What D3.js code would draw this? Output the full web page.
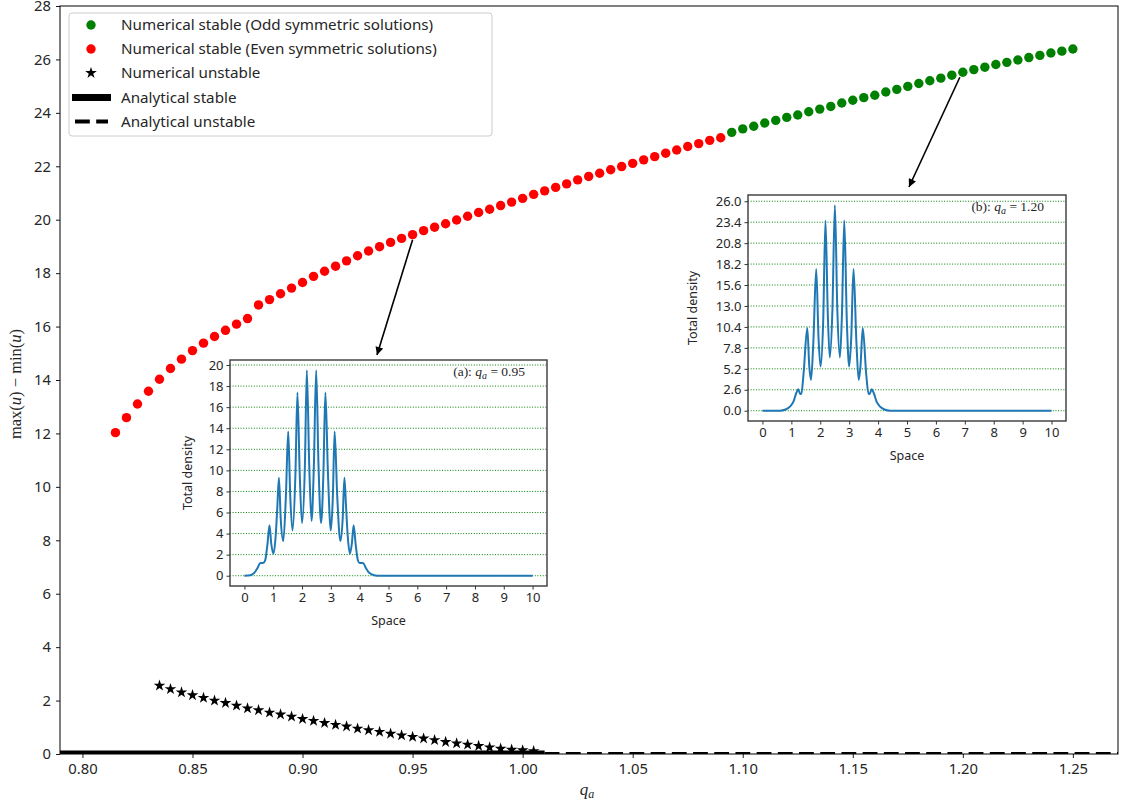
<!DOCTYPE html>
<html><head><meta charset="utf-8">
<script src="https://cdn.jsdelivr.net/npm/d3@7"></script>
<style>
body{margin:0;background:#fff;}
text{font-family:"Noto Sans",sans-serif;}
</style></head>
<body><svg id="c" width="1123" height="803"></svg>
<script>
// ---------- data ----------
const xTicks = [0.80,0.85,0.90,0.95,1.00,1.05,1.10,1.15,1.20,1.25];
const yTicks = [0,2,4,6,8,10,12,14,16,18,20,22,24,26,28];

const qEven = [0.815,0.820,0.825,0.830,0.835,0.840,0.845,0.850,0.855,0.860,0.865,0.870,0.875,0.880,0.885,0.890,0.895,0.900,0.905,0.910,0.915,0.920,0.925,0.930,0.935,0.940,0.945,0.950,0.955,0.960,0.965,0.970,0.975,0.980,0.985,0.990,0.995,1.000,1.005,1.010,1.015,1.020,1.025,1.030,1.035,1.040,1.045,1.050,1.055,1.060,1.065,1.070,1.075,1.080,1.085,1.090];
const evenVals = [12.03,12.59,13.10,13.58,14.03,14.43,14.78,15.10,15.38,15.63,15.86,16.09,16.30,16.81,17.01,17.23,17.44,17.65,17.88,18.07,18.26,18.46,18.65,18.83,18.99,19.15,19.30,19.44,19.59,19.72,19.85,19.99,20.13,20.27,20.39,20.53,20.66,20.80,20.95,21.08,21.21,21.34,21.49,21.62,21.74,21.87,21.99,22.11,22.24,22.36,22.49,22.61,22.74,22.85,22.97,23.07];

const qOdd = [1.095,1.100,1.105,1.110,1.115,1.120,1.125,1.130,1.135,1.140,1.145,1.150,1.155,1.160,1.165,1.170,1.175,1.180,1.185,1.190,1.195,1.200,1.205,1.210,1.215,1.220,1.225,1.230,1.235,1.240,1.245,1.250];
const oddVals = [23.27,23.40,23.50,23.62,23.72,23.83,23.92,24.04,24.14,24.24,24.37,24.47,24.57,24.66,24.78,24.88,24.99,25.10,25.20,25.30,25.41,25.52,25.62,25.71,25.81,25.89,25.98,26.07,26.15,26.24,26.31,26.39];

const qUnstable = [0.835,0.840,0.845,0.850,0.855,0.860,0.865,0.870,0.875,0.880,0.885,0.890,0.895,0.900,0.905,0.910,0.915,0.920,0.925,0.930,0.935,0.940,0.945,0.950,0.955,0.960,0.965,0.970,0.975,0.980,0.985,0.990,0.995,1.000,1.005];
const unstableVals = [2.56,2.43,2.31,2.20,2.10,2.00,1.91,1.81,1.71,1.64,1.55,1.48,1.40,1.31,1.24,1.16,1.09,1.03,0.95,0.89,0.83,0.76,0.70,0.64,0.58,0.52,0.45,0.40,0.35,0.30,0.25,0.20,0.16,0.14,0.11];

const analyticStableQ = [0.78, 1.01];
const analyticStableV = [0, 0];
const analyticUnstableQ = [1.01, 1.28];
const analyticUnstableV = [0, 0];

const legendLabels = ["Numerical stable (Odd symmetric solutions)","Numerical stable (Even symmetric solutions)","Numerical unstable","Analytical stable","Analytical unstable"];

// inset (a) q_a = 0.95
const insetAX = [0,0.2,0.35,0.45,0.55,0.65,0.72,0.80,0.87,0.93,1.01,1.08,1.14,1.198,1.26,1.35,1.44,1.52,1.59,1.67,1.77,1.84,1.92,2.0,2.10,2.166,2.25,2.33,2.41,2.49,2.57,2.66,2.74,2.81,2.90,3.0,3.07,3.13,3.22,3.33,3.41,3.47,3.53,3.59,3.66,3.73,3.79,3.86,3.94,4.0,4.12,4.22,4.32,4.5,4.7,6,8,10];
const insetAY = [0,0.05,0.3,0.7,1.2,1.2,1.45,3.0,4.8,3.1,2.1,3.6,6.4,9.3,5.4,3.3,7.6,13.7,7.6,4.3,9.6,17.4,9.6,5.0,10.6,19.5,10.4,5.2,10.4,19.5,10.6,5.0,9.6,17.4,9.6,4.3,7.6,13.7,7.6,3.3,5.4,9.3,6.4,3.6,2.1,3.1,4.8,3.0,1.45,1.2,1.2,0.7,0.3,0.05,0,0,0,0];
const insetATicks = [0,2,4,6,8,10,12,14,16,18,20];

// inset (b) q_a = 1.20
const insetBX = [0,0.6,0.8,0.95,1.08,1.17,1.24,1.3,1.345,1.42,1.55,1.62,1.68,1.76,1.86,1.94,2.01,2.10,2.18,2.26,2.33,2.42,2.506,2.59,2.68,2.75,2.83,2.92,3.0,3.07,3.15,3.25,3.33,3.39,3.47,3.59,3.67,3.71,3.78,3.85,3.94,4.07,4.22,4.42,6,8,10];
const insetBY = [0,0,0.15,0.5,1.2,2.2,2.66,2.1,2.08,4.5,10.26,5.5,3.82,8.5,17.6,9.0,5.48,11.0,23.6,12.0,6.6,12.5,25.5,12.5,6.6,12.0,23.6,11.0,5.48,9.0,17.6,8.5,3.82,5.5,10.26,4.5,2.08,2.1,2.66,2.2,1.2,0.5,0.15,0,0,0,0];
const insetBTicks = [0.0,2.6,5.2,7.8,10.4,13.0,15.6,18.2,20.8,23.4,26.0];
const insetXTicks = [0,1,2,3,4,5,6,7,8,9,10];

// ---------- drawing ----------
const svg = d3.select("#c");
const L=60,R=1118,T=6,B=754;
const x = d3.scaleLinear([0.7898,1.2705],[L,R]);
const y = d3.scaleLinear([0,28],[B,T]);
const ink = "#262626";

svg.append("defs").append("clipPath").attr("id","mainclip")
  .append("rect").attr("x",L).attr("y",T).attr("width",R-L).attr("height",B-T);

// analytical lines
const line0 = d3.line().x(d=>x(d[0])).y(d=>y(d[1]));
const g = svg.append("g").attr("clip-path","url(#mainclip)");
g.append("path").attr("d",line0(d3.zip(analyticStableQ,analyticStableV)))
  .attr("stroke","#000").attr("stroke-width",7).attr("fill","none");
g.append("path").attr("d",line0(d3.zip(analyticUnstableQ,analyticUnstableV)))
  .attr("stroke","#000").attr("stroke-width",4).attr("fill","none")
  .attr("stroke-dasharray","14.8,6.4");

// markers
g.selectAll("circle.even").data(d3.zip(qEven,evenVals)).join("circle")
  .attr("cx",d=>x(d[0])).attr("cy",d=>y(d[1])).attr("r",4.7).attr("fill","#ff0000");
g.selectAll("circle.odd").data(d3.zip(qOdd,oddVals)).join("circle")
  .attr("class","odd").attr("cx",d=>x(d[0])).attr("cy",d=>y(d[1])).attr("r",4.7).attr("fill","#008000");
const star = d3.symbol().type(d3.symbolStar).size(42);
g.selectAll("path.star").data(d3.zip(qUnstable,unstableVals)).join("path")
  .attr("class","star").attr("d",star).attr("fill","#000")
  .attr("transform",d=>`translate(${x(d[0])},${y(d[1])})`);

// axes
const xa = svg.append("g").attr("transform",`translate(0,${B})`)
  .call(d3.axisBottom(x).tickValues(xTicks).tickFormat(d3.format(".2f")).tickSize(4).tickPadding(5));
const ya = svg.append("g").attr("transform",`translate(${L},0)`)
  .call(d3.axisLeft(y).tickValues(yTicks).tickFormat(d3.format("d")).tickSize(4).tickPadding(5));
[xa,ya].forEach(a=>{
  a.select(".domain").remove();
  a.selectAll("line").attr("stroke","#000").attr("stroke-width",0.9);
  a.selectAll("text").attr("fill",ink).style("font-size","14.8px").style("font-family","'Noto Sans',sans-serif");
});
svg.append("rect").attr("x",L).attr("y",T).attr("width",R-L).attr("height",B-T)
  .attr("fill","none").attr("stroke","#000").attr("stroke-width",1);

// axis labels
const yl = svg.append("text").attr("transform",`translate(21,384) rotate(-90)`)
  .attr("text-anchor","middle").style("font-family","'Liberation Serif',serif").style("font-size","16.5px").attr("fill",ink);
yl.append("tspan").text("max(");
yl.append("tspan").attr("font-style","italic").text("u");
yl.append("tspan").text(") − min(");
yl.append("tspan").attr("font-style","italic").text("u");
yl.append("tspan").text(")");
const xl = svg.append("text").attr("x",587).attr("y",795).attr("text-anchor","middle")
  .style("font-family","'Liberation Serif',serif").style("font-size","17px").attr("fill",ink);
xl.append("tspan").attr("font-style","italic").text("q");
xl.append("tspan").attr("font-style","italic").attr("dy",3).style("font-size","12px").text("a");

// legend
const lg = svg.append("g");
lg.append("rect").attr("x",69).attr("y",13).attr("width",423).attr("height",123).attr("rx",3)
  .attr("fill","#fff").attr("fill-opacity",0.8).attr("stroke","#cccccc").attr("stroke-width",1);
const rowY = [25,49,73,97.5,121.5];
lg.append("circle").attr("cx",91).attr("cy",rowY[0]).attr("r",4.7).attr("fill","#008000");
lg.append("circle").attr("cx",91).attr("cy",rowY[1]).attr("r",4.7).attr("fill","#ff0000");
lg.append("path").attr("d",star).attr("fill","#000").attr("transform",`translate(91,${rowY[2]})`);
lg.append("line").attr("x1",72).attr("x2",111).attr("y1",rowY[3]).attr("y2",rowY[3]).attr("stroke","#000").attr("stroke-width",7);
lg.append("line").attr("x1",75).attr("x2",108).attr("y1",rowY[4]).attr("y2",rowY[4]).attr("stroke","#000").attr("stroke-width",4).attr("stroke-dasharray","14.8,6.4");
lg.selectAll("text").data(legendLabels).join("text")
  .attr("x",121).attr("y",(d,i)=>rowY[i]).attr("dy","0.35em")
  .style("font-size","15.2px").attr("fill",ink).text(d=>d);

// arrows
const defs = svg.select("defs");
defs.append("marker").attr("id","ah").attr("viewBox","0 0 10 10").attr("refX",10).attr("refY",5)
  .attr("markerWidth",11).attr("markerHeight",8).attr("markerUnits","userSpaceOnUse").attr("orient","auto")
  .append("path").attr("d","M0,0 L10,5 L0,10 z").attr("fill","#000");
svg.append("line").attr("x1",x(0.95)).attr("y1",y(19.44)+5).attr("x2",377).attr("y2",355)
  .attr("stroke","#000").attr("stroke-width",1.6).attr("marker-end","url(#ah)");
svg.append("line").attr("x1",x(1.20)-3).attr("y1",y(25.52)+5).attr("x2",909).attr("y2",187)
  .attr("stroke","#000").attr("stroke-width",1.6).attr("marker-end","url(#ah)");

// insets
function inset(cfg){
  const ix = d3.scaleLinear([-0.5,10.5],[cfg.l,cfg.r]);
  const iy = d3.scaleLinear(cfg.ydom,[cfg.b,cfg.t]);
  const ig = svg.append("g");
  ig.append("rect").attr("x",cfg.l).attr("y",cfg.t).attr("width",cfg.r-cfg.l).attr("height",cfg.b-cfg.t).attr("fill","#fff");
  ig.selectAll("line.grid").data(cfg.yticks).join("line").attr("class","grid")
    .attr("x1",cfg.l).attr("x2",cfg.r).attr("y1",d=>iy(d)).attr("y2",d=>iy(d))
    .attr("stroke","#008000").attr("stroke-width",1).attr("stroke-dasharray","1,1.65");
  ig.append("path").attr("d",d3.line().x(d=>ix(d[0])).y(d=>iy(d[1])).curve(d3.curveMonotoneX)(d3.zip(cfg.xs,cfg.ys)))
    .attr("fill","none").attr("stroke","#1f77b4").attr("stroke-width",2);
  const ax = ig.append("g").attr("transform",`translate(0,${cfg.b})`)
    .call(d3.axisBottom(ix).tickValues(insetXTicks).tickFormat(d3.format("d")).tickSize(3.5).tickPadding(3));
  const ay = ig.append("g").attr("transform",`translate(${cfg.l},0)`)
    .call(d3.axisLeft(iy).tickValues(cfg.yticks).tickFormat(d3.format(cfg.fmt)).tickSize(3.5).tickPadding(3));
  [ax,ay].forEach(a=>{
    a.select(".domain").remove();
    a.selectAll("line").attr("stroke","#333");
    a.selectAll("text").attr("fill",ink).style("font-size","13px").style("font-family","'Noto Sans',sans-serif");
  });
  ig.append("rect").attr("x",cfg.l).attr("y",cfg.t).attr("width",cfg.r-cfg.l).attr("height",cfg.b-cfg.t)
    .attr("fill","none").attr("stroke","#3a3a3a").attr("stroke-width",1.4);
  ig.append("text").attr("x",(cfg.l+cfg.r)/2).attr("y",cfg.b+39).attr("text-anchor","middle")
    .style("font-size","12.5px").attr("fill",ink).text("Space");
  ig.append("text").attr("transform",`translate(${cfg.ylx},${(cfg.t+cfg.b)/2}) rotate(-90)`).attr("text-anchor","middle")
    .style("font-size","12.5px").attr("fill",ink).text("Total density");
  const an = ig.append("text").attr("x",cfg.r-22).attr("y",cfg.t+16).attr("text-anchor","end")
    .style("font-family","'Liberation Serif',serif").style("font-size","13.5px").attr("fill",ink);
  an.append("tspan").text(cfg.tag+": ");
  an.append("tspan").attr("font-style","italic").text("q");
  an.append("tspan").attr("font-style","italic").attr("dy",2.5).style("font-size","10px").text("a");
  an.append("tspan").attr("dy",-2.5).text(" = "+cfg.val);
}
inset({l:230,r:547,t:360,b:586,ydom:[-0.975,20.475],yticks:insetATicks,fmt:"d",xs:insetAX,ys:insetAY,ylx:192,tag:"(a)",val:"0.95"});
inset({l:748,r:1066,t:195,b:421,ydom:[-1.275,26.775],yticks:insetBTicks,fmt:".1f",xs:insetBX,ys:insetBY,ylx:697,tag:"(b)",val:"1.20"});
</script></body></html>
